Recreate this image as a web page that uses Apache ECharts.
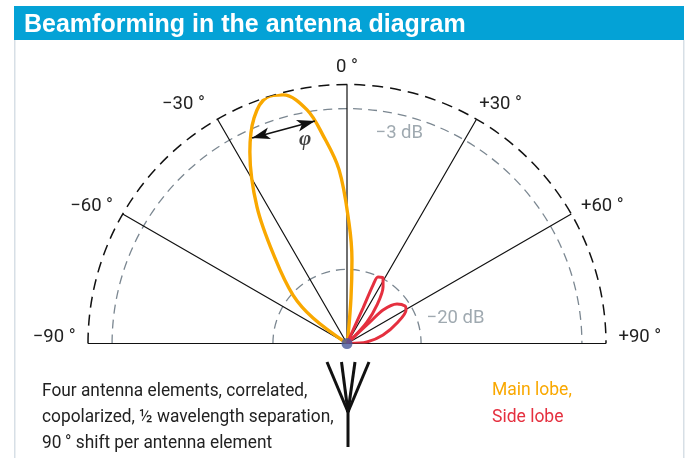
<!DOCTYPE html>
<html><head><meta charset="utf-8">
<script src="https://cdn.jsdelivr.net/npm/echarts@6/dist/echarts.min.js"></script>
<style>html,body{margin:0;padding:0;background:#fff}#c{width:691px;height:458px}</style>
</head><body><div id="c"></div>
<script>
const titleText = 'Beamforming in the antenna diagram';
const noteLines = ['Four antenna elements, correlated,', 'copolarized, \u00bd wavelength separation,', '90\u2009\u00b0 shift per antenna element'];
const angleTicks = [-90, -60, -30, 0, 30, 60, 90];
const levelValues = [0.286, 0.907];
// [relative radius, angle in degrees]
const mainLobe = [[0,-58],[0.164,-53.1],[0.28,-48.1],[0.432,-40.1],[0.631,-33.4],[0.829,-26.9],[0.942,-22.4],[1.0,-18],[0.991,-14.4],[0.915,-9.7],[0.81,-6.6],[0.671,-2.6],[0.465,0.95],[0.323,3.4],[0.176,5],[0.025,8.7],[0,9]];
const sideLobe1 = [[0,24],[0.15,24.3],[0.247,24],[0.283,25],[0.289,28.8],[0.259,32.5],[0.188,37.9],[0.113,42.9],[0.031,47],[0,47]];
const sideLobe2 = [[0,44],[0.122,46.9],[0.19,47.1],[0.246,51.7],[0.267,57.1],[0.262,60.4],[0.214,67.1],[0.143,76.7],[0.077,85.7],[0.012,90],[0,90]];
const levelLabels = [[0.835,14,'\u22123 dB'],[0.43,77,'\u221220 dB']];
const phiLabel = [0.804,-11.6,'\u03c6'];
const phiArrow = [[0.874,-24.8],[0.868,-8.2]];
const FONT = 'Roboto,"Liberation Sans",sans-serif';
const ORANGE = '#f9a800', RED = '#e5303f';
const labelPad = {'-90':[0,7,12,0],'-60':[0,5,0,0],'-30':[0,10,0,0],'0':[0,0,3,0],'30':[0,0,0,0],'60':[0,0,0,5],'90':[0,0,12,7]};
const tickKey = v => 't' + (v < 0 ? 'm' + (-v) : v);
const rich = {};
angleTicks.forEach(v => { rich[tickKey(v)] = {padding:labelPad[v], color:'#222', fontFamily:FONT, fontSize:18.5, lineHeight:Math.abs(v) === 60 ? 10 : 20}; });
const angleName = v => '{' + tickKey(v) + '|' + (v === 0 ? '0 \u00b0' : (v < 0 ? '\u2212' + (-v) : '+' + v) + ' \u00b0') + '}';
const chart = echarts.init(document.getElementById('c'), null, {renderer:'canvas'});
const prongs = [327, 341.5, 355, 369];
chart.setOption({
  animation:false, backgroundColor:'#fff',
  polar:{center:[347,343.5], radius:[0,259]},
  angleAxis:{type:'value', min:-90, max:90, interval:30, startAngle:180, endAngle:0, clockwise:true,
    axisLine:{show:true, lineStyle:{color:'#111', width:1.5, type:[11,7]}},
    axisTick:{show:false},
    splitLine:{show:true, lineStyle:{color:'#111', width:1.2}},
    axisLabel:{show:true, margin:5.4, formatter:angleName, rich}},
  radiusAxis:{type:'value', min:0, max:1, axisLine:{show:false}, axisLabel:{show:false},
    axisTick:{show:false, customValues:levelValues},
    splitLine:{show:true, lineStyle:{color:'#7b8791', width:1.3, type:[9,6]}}},
  legend:{left:492, top:382, orient:'vertical', icon:'none', itemWidth:0, itemHeight:0, itemGap:9, padding:0,
    data:[{name:'Main lobe', textStyle:{color:ORANGE}},{name:'Side lobe', textStyle:{color:RED}}],
    formatter:n => n === 'Main lobe' ? 'Main lobe,' : n,
    selectedMode:false, textStyle:{fontFamily:FONT, fontSize:17.5, padding:[0,0,0,-5]}},
  series:[
    {name:'Main lobe', type:'line', coordinateSystem:'polar', data:mainLobe, smooth:0.35, symbol:'none', clip:false, lineStyle:{color:ORANGE, width:3.4}, itemStyle:{color:ORANGE}, z:3},
    {name:'Side lobe', type:'line', coordinateSystem:'polar', data:sideLobe1, smooth:0.3, symbol:'none', clip:false, lineStyle:{color:RED, width:3}, itemStyle:{color:RED}, z:4},
    {name:'Side lobe', type:'line', coordinateSystem:'polar', data:sideLobe2, smooth:0.3, symbol:'none', clip:false, lineStyle:{color:RED, width:3}, itemStyle:{color:RED}, z:4},
    {type:'scatter', coordinateSystem:'polar', data:[[0,0]], symbolSize:11, itemStyle:{color:'#48589a'}, z:6, silent:true},
    {type:'scatter', coordinateSystem:'polar', symbolSize:0, z:6, silent:true,
      data:levelLabels.map(d => ({value:[d[0],d[1]], label:{show:true, position:'inside', formatter:d[2], color:'#87939c', fontFamily:FONT, fontSize:18.5}}))},
    {type:'scatter', coordinateSystem:'polar', symbolSize:0, z:6, silent:true,
      data:[{value:[phiLabel[0],phiLabel[1]], label:{show:true, position:'inside', formatter:phiLabel[2], color:'#111', fontFamily:'"Liberation Serif",serif', fontStyle:'italic', fontWeight:'bold', fontSize:21}}]},
    {type:'line', coordinateSystem:'polar', data:[], symbol:'none', z:5, silent:true,
      markLine:{silent:true, symbol:['arrow','arrow'], symbolSize:[9,18], label:{show:false}, lineStyle:{color:'#111', width:1.6, type:'solid'},
        data:[[{coord:phiArrow[0]},{coord:phiArrow[1]}]]}}
  ],
  graphic:[
    {type:'rect', shape:{x:14,y:40,width:1.5,height:418}, style:{fill:'#d7dfe6'}, silent:true},
    {type:'rect', shape:{x:683,y:40,width:1.5,height:418}, style:{fill:'#d7dfe6'}, silent:true},
    {type:'rect', shape:{x:14,y:6,width:670,height:34}, style:{fill:'#04a2d6'}, silent:true},
    {type:'text', x:24, y:25, style:{text:titleText, fill:'#fff', font:'bold 25px "Liberation Sans",sans-serif', textVerticalAlign:'middle'}, silent:true},
    ...noteLines.map((t,i) => ({type:'text', x:42, y:391.5 + i*26, scaleX:0.935, style:{text:t, fill:'#222', font:'18.5px '+FONT, textVerticalAlign:'middle'}, silent:true})),
    ...prongs.map(x => ({type:'line', shape:{x1:348,y1:412,x2:x,y2:362}, style:{stroke:'#111', lineWidth:3}, silent:true})),
    {type:'line', shape:{x1:348,y1:408,x2:348,y2:447}, style:{stroke:'#111', lineWidth:3}, silent:true}
  ]
});
</script></body></html>
